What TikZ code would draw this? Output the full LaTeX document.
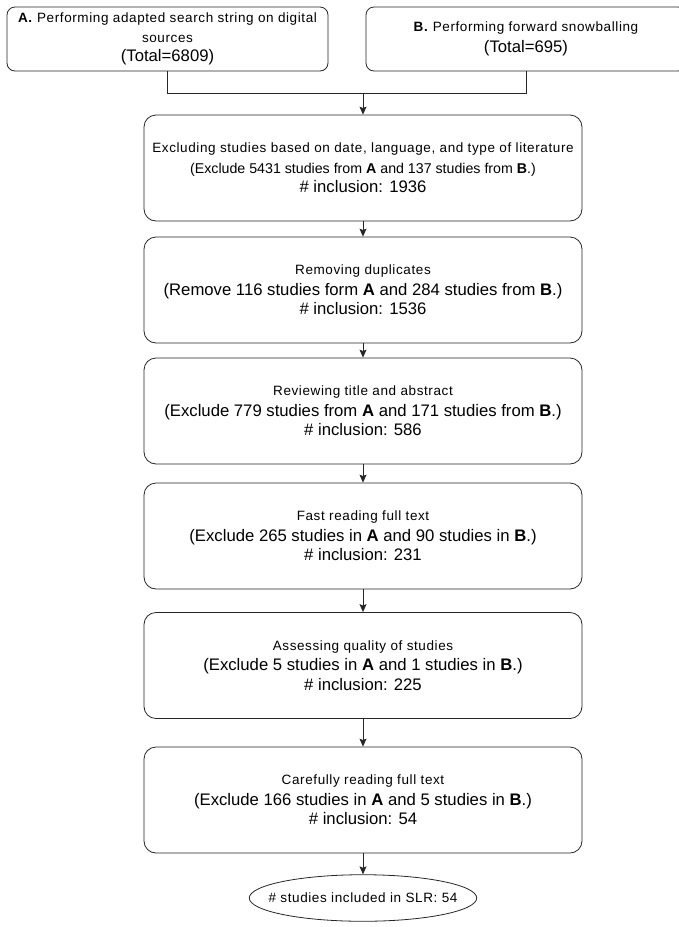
\documentclass[tikz,border=0pt]{standalone}
\usepackage{fontspec}
\setmainfont{Liberation Sans}
\usetikzlibrary{arrows.meta,shapes.geometric}

\newcommand{\firstline}[1]{{\fontsize{13.5}{16}\selectfont\addfontfeatures{LetterSpace=4.5}#1}}

\tikzset{
	stepbox/.style={draw=black!85, line width=0.8pt, rounded corners=12pt, minimum width=438pt, minimum height=106pt, inner sep=0pt, align=center, font=\fontsize{16.7}{19.5}\selectfont},
	srcbox/.style={draw=black!85, line width=0.8pt, rounded corners=8pt, minimum height=64pt, inner sep=0pt, align=center, font=\fontsize{16.7}{19.5}\selectfont},
	link/.style={draw=black!85, line width=0.8pt},
	flow/.style={link, -{Stealth[length=8pt,width=7pt,inset=1.5pt]}},
}

\begin{document}
\begin{tikzpicture}[x=1pt, y=-1pt]
	\useasboundingbox (0,0) rectangle (678,927);
	% sources
	\node[srcbox, minimum width=321pt] (srcA) at (167.5,39) {\firstline{\textbf{A.} Performing adapted search string on digital}\\\firstline{sources}\\(Total=6809)};
	\node[srcbox, minimum width=320pt] (srcB) at (526,39) {\firstline{\textbf{B.} Performing forward snowballing}\\[1pt](Total=695)};
	\coordinate (merge) at (363,93);
	
	% steps
	\node[stepbox] (exclude) at (363,168) {\firstline{Excluding studies based on date, language, and type of literature}\\[1pt]{\fontsize{14.2}{17}\selectfont (Exclude 5431 studies from \textbf{A} and 137 studies from \textbf{B}.)}\\\# inclusion: 1936};
	\node[stepbox] (dupl) at (363,290) {\firstline{Removing duplicates}\\[1pt](Remove 116 studies form \textbf{A} and 284 studies from \textbf{B}.)\\\# inclusion: 1536};
	\node[stepbox] (review) at (363,411) {\firstline{Reviewing title and abstract}\\[1pt](Exclude 779 studies from \textbf{A} and 171 studies from \textbf{B}.)\\\# inclusion: 586};
	\node[stepbox] (fast) at (363,536) {\firstline{Fast reading full text}\\[1pt](Exclude 265 studies in \textbf{A} and 90 studies in \textbf{B}.)\\\# inclusion: 231};
	\node[stepbox] (quality) at (363,665.5) {\firstline{Assessing quality of studies}\\[1pt](Exclude 5 studies in \textbf{A} and 1 studies in \textbf{B}.)\\\# inclusion: 225};
	\node[stepbox] (careful) at (363,800) {\firstline{Carefully reading full text}\\[1pt](Exclude 166 studies in \textbf{A} and 5 studies in \textbf{B}.)\\\# inclusion: 54};
	\node[ellipse, draw=black!85, line width=0.8pt, inner xsep=-14pt, inner ysep=11.5pt] (slr) at (363,898) {\firstline{\# studies included in SLR: 54}};
	
	\draw[link] (srcA.south) |- (merge);
	\draw[link] (srcB.south) |- (merge);
	\draw[flow] (merge) -- (exclude.north);
	\draw[flow] (exclude) -- (dupl);
	\draw[flow] (dupl) -- (review);
	\draw[flow] (review) -- (fast);
	\draw[flow] (fast) -- (quality);
	\draw[flow] (quality) -- (careful);
	\draw[flow] (careful) -- (slr);
\end{tikzpicture}
\end{document}
